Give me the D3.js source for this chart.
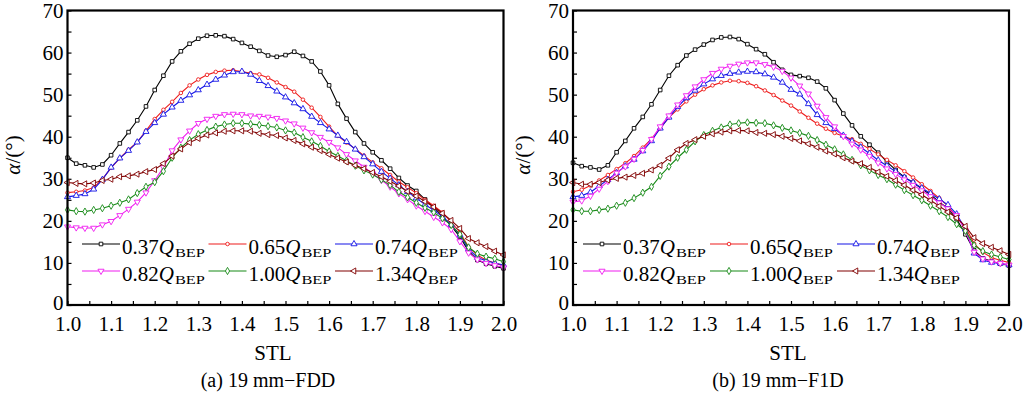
<!DOCTYPE html>
<html>
<head>
<meta charset="utf-8">
<script src="https://cdn.jsdelivr.net/npm/d3@7"></script>
<style>
  body { margin: 0; background: #fff; }
  svg { display: block; font-family: "Liberation Serif", "Times New Roman", serif; }
</style>
</head>
<body>
<div id="chart"></div>
<script>
// STL positions of the sampled points
const stl = [1.00,1.02,1.04,1.06,1.08,1.10,1.12,1.14,1.16,1.18,1.20,1.22,1.24,1.26,1.28,1.30,1.32,1.34,1.36,1.38,1.40,1.42,1.44,1.46,1.48,1.50,
             1.52,1.54,1.56,1.58,1.60,1.62,1.64,1.66,1.68,1.70,1.72,1.74,1.76,1.78,1.80,1.82,1.84,1.86,1.88,1.90,1.92,1.94,1.96,1.98,2.00];

const flowLabels = ["0.37", "0.65", "0.74", "0.82", "1.00", "1.34"];

// (a) 19 mm-FDD
const fddQ037 = [35.0,33.6,33.2,32.7,33.4,35.6,38.4,41.1,43.9,47.2,51.1,54.5,57.9,60.3,62.1,63.3,64.0,64.1,63.9,63.2,62.3,61.4,60.4,59.3,59.0,59.4,
                 60.2,59.2,57.9,55.5,52.2,47.8,44.3,41.1,38.4,36.3,34.4,32.4,30.2,28.4,27.1,25.1,23.2,21.1,18.8,16.2,12.8,10.7,9.8,9.2,8.7];
const fddQ065 = [26.7,26.9,27.2,27.9,29.9,32.6,34.9,36.9,38.7,41.4,44.2,46.4,48.3,50.4,52.2,53.6,54.7,55.4,55.7,55.8,55.5,55.1,54.8,54.0,52.9,51.8,
                 50.7,48.8,46.9,44.7,42.4,40.2,38.6,37.1,35.5,33.9,32.5,30.9,29.3,28.0,26.6,25.0,23.6,22.0,19.7,17.3,13.8,11.8,10.7,10.0,9.3];
const fddQ074 = [25.7,26.0,26.4,27.5,29.8,32.7,34.9,36.7,38.7,41.2,43.3,45.3,47.0,48.6,49.9,51.1,52.4,53.6,54.6,55.4,55.5,54.8,53.3,52.1,50.8,49.4,
                 48.0,46.6,44.8,43.3,41.8,40.3,38.8,37.0,35.2,33.5,31.7,30.1,28.5,26.9,25.4,23.9,22.5,21.0,19.1,16.6,13.3,11.3,10.5,10.0,9.5];
const fddQ082 = [18.6,18.4,18.3,18.3,19.1,19.9,21.3,22.8,24.5,26.7,29.6,32.7,36.7,39.3,41.4,43.2,44.2,44.9,45.3,45.4,45.3,45.0,44.9,44.7,44.4,43.8,
                 43.1,42.1,41.0,39.9,38.7,37.4,35.8,34.3,32.8,31.2,29.7,28.1,26.5,25.1,23.6,22.3,20.9,19.6,18.0,15.1,12.4,10.8,9.9,9.4,8.9];
const fddQ100 = [22.6,22.3,22.2,22.6,23.0,23.6,24.3,25.1,26.6,28.1,29.2,31.8,35.0,37.4,39.2,40.6,41.6,42.4,42.9,43.2,43.2,43.0,42.8,42.5,42.2,41.5,
                 41.0,39.9,38.9,37.8,36.5,35.4,34.3,33.1,32.0,31.0,29.8,28.5,26.9,25.6,24.3,23.1,22.0,20.6,19.0,16.8,13.7,12.2,11.5,11.0,10.3];
const fddQ134 = [29.1,28.9,28.8,29.0,29.6,29.9,30.5,30.7,31.1,31.7,32.2,33.6,35.4,37.1,38.6,39.6,40.4,40.9,41.3,41.4,41.4,41.3,40.8,40.5,40.3,39.7,
                 39.1,38.3,37.5,36.7,35.8,34.9,34.0,33.2,32.4,31.5,30.5,29.4,28.3,27.0,25.9,24.6,23.3,21.8,20.1,18.2,15.8,14.8,13.9,12.8,11.9];

// (b) 19 mm-F1D
const f1dQ037 = [33.8,33.0,32.7,32.2,33.2,36.3,39.0,42.0,44.7,47.7,51.1,54.5,57.0,59.3,60.7,61.9,63.0,63.6,63.7,63.2,62.0,60.8,59.6,57.7,55.9,54.7,
                 54.4,54.0,53.1,51.5,48.7,45.5,42.7,40.1,38.1,36.2,34.0,32.1,30.4,29.1,27.6,26.2,24.5,22.9,20.4,16.8,13.0,11.1,10.4,9.8,9.4];
const f1dQ065 = [26.9,27.4,28.4,29.6,30.9,32.3,33.7,35.4,37.4,39.5,42.0,44.6,46.5,48.4,50.0,51.3,52.2,52.9,53.3,53.2,52.8,52.0,51.0,49.9,48.6,47.4,
                 46.0,44.5,43.1,41.9,40.9,40.1,39.4,38.3,37.1,35.8,34.5,33.2,31.8,30.3,28.7,27.1,25.4,23.5,20.9,18.5,14.6,12.5,11.3,10.6,10.1];
const f1dQ074 = [25.7,26.0,26.8,28.3,29.8,31.4,33.0,34.6,36.6,39.0,42.0,44.6,47.1,49.2,51.0,52.5,53.7,54.5,55.0,55.3,55.5,55.4,54.9,54.1,52.9,51.2,
                 50.1,47.8,45.2,43.3,41.9,40.3,38.9,37.5,36.0,34.4,33.1,31.7,30.3,29.1,27.8,26.5,25.2,23.8,21.6,18.0,12.3,10.7,10.1,9.9,9.5];
const f1dQ082 = [24.5,24.8,25.9,27.6,29.4,31.4,32.9,34.7,36.8,39.4,42.4,45.0,47.6,49.8,51.9,53.6,55.1,56.1,56.8,57.3,57.6,57.6,57.2,56.6,55.6,54.0,
                 52.1,50.2,47.3,44.6,42.4,40.1,38.3,36.9,35.4,33.8,32.4,31.1,29.8,28.5,27.2,25.8,24.3,22.9,21.3,17.7,12.6,11.0,10.3,9.9,9.5];
const f1dQ100 = [22.6,22.3,22.3,22.6,22.9,23.6,24.3,25.4,26.7,28.1,30.7,32.9,35.0,36.9,38.9,40.4,41.4,42.2,42.9,43.2,43.4,43.3,43.2,42.7,42.1,41.5,
                 40.9,40.2,39.2,38.1,37.0,35.8,34.5,33.2,32.0,30.9,29.9,28.6,27.3,26.1,24.9,23.6,22.3,20.9,19.2,17.6,14.2,12.8,12.0,11.4,10.8];
const f1dQ134 = [29.1,28.7,28.7,29.1,29.7,30.1,30.4,30.8,31.3,32.1,33.2,34.9,36.9,38.4,39.3,40.1,40.7,41.1,41.4,41.5,41.4,41.0,40.8,40.5,40.1,39.6,
                 39.0,38.3,37.5,36.6,35.9,35.0,34.2,33.6,32.7,31.6,30.6,29.6,28.5,27.3,26.2,24.9,23.5,22.1,20.7,18.7,16.0,14.6,13.7,12.9,12.0];

const xTicks = [1.0,1.05,1.1,1.15,1.2,1.25,1.3,1.35,1.4,1.45,1.5,1.55,1.6,1.65,1.7,1.75,1.8,1.85,1.9,1.95,2.0];
const yTicks = [0,5,10,15,20,25,30,35,40,45,50,55,60,65,70];

const colors = ["#000000", "#ee1c1c", "#1414e6", "#f01cf0", "#178a17", "#800000"];
// marker shape + rotation per series
const markers = [
  {type: d3.symbolSquare, size: 13, rot: 0},
  {type: d3.symbolCircle, size: 10, rot: 0},
  {type: d3.symbolTriangle, size: 16, rot: 0},
  {type: d3.symbolTriangle, size: 16, rot: 180},
  {type: d3.symbolDiamond, size: 15, rot: 0},
  {type: d3.symbolTriangle, size: 16, rot: -90}
];

const width = 1024, height = 393;
const svg = d3.select("#chart").append("svg")
    .attr("width", width).attr("height", height)
    .attr("font-family", "Liberation Serif");

const panels = [
  {x0: 67.5, x1: 503.5, data: [fddQ037, fddQ065, fddQ074, fddQ082, fddQ100, fddQ134],
   yLabX: 20, stlX: 273, capX: 268, caption: "(a) 19 mm\u2212FDD", legX: 82, legDx: 126.5},
  {x0: 573, x1: 1009, data: [f1dQ037, f1dQ065, f1dQ074, f1dQ082, f1dQ100, f1dQ134],
   yLabX: 530, stlX: 788, capX: 778, caption: "(b) 19 mm\u2212F1D", legX: 583, legDx: 127}
];

const plotTop = 10.5, plotBottom = 305;

panels.forEach(p => {
  const x = d3.scaleLinear().domain([1, 2]).range([p.x0, p.x1]);
  const y = d3.scaleLinear().domain([0, 70]).range([plotBottom, plotTop]);
  const g = svg.append("g");

  // y axis
  g.append("g")
      .attr("transform", `translate(${p.x0},0)`)
      .call(d3.axisLeft(y).tickValues(yTicks).tickSize(-4).tickPadding(4)
            .tickFormat(d => d % 10 === 0 ? d : ""))
      .call(a => a.select(".domain").remove())
      .call(a => a.selectAll(".tick line").attr("stroke", "#000").attr("stroke-width", 1.2))
      .call(a => a.selectAll(".tick text").attr("font-size", 21).attr("fill", "#000")
            .attr("font-family", "Liberation Serif"))
      .call(a => a.selectAll(".tick text").filter(d => d === 0).attr("dy", "0.2em"));

  // x axis
  g.append("g")
      .attr("transform", `translate(0,${plotBottom})`)
      .call(d3.axisBottom(x).tickValues(xTicks).tickSize(-4).tickPadding(11)
            .tickFormat(d => Math.round(d * 100) % 10 === 0 ? d3.format(".1f")(d) : ""))
      .call(a => a.select(".domain").remove())
      .call(a => a.selectAll(".tick line").attr("stroke", "#000").attr("stroke-width", 1.2))
      .call(a => a.selectAll(".tick text").attr("font-size", 21).attr("fill", "#000")
            .attr("font-family", "Liberation Serif"));

  // series
  const line = d3.line().x((d, i) => x(stl[i])).y(d => y(d));
  p.data.forEach((vals, k) => {
    const m = markers[k];
    const sym = d3.symbol().type(m.type).size(m.size);
    g.append("path").datum(vals)
        .attr("fill", "none").attr("stroke", colors[k]).attr("stroke-width", 1.1)
        .attr("d", line);
    g.append("g").selectAll("path").data(vals).join("path")
        .attr("transform", (d, i) => `translate(${x(stl[i])},${y(d)}) rotate(${m.rot})`)
        .attr("d", sym)
        .attr("fill", "#fff").attr("stroke", colors[k]).attr("stroke-width", 0.9);
  });

  // frame
  g.append("rect")
      .attr("x", p.x0).attr("y", plotTop)
      .attr("width", p.x1 - p.x0).attr("height", plotBottom - plotTop)
      .attr("fill", "none").attr("stroke", "#000").attr("stroke-width", 2.2);

  // legend
  flowLabels.forEach((lab, k) => {
    const col = k % 3, row = Math.floor(k / 3);
    const lx = p.legX + col * p.legDx, ly = 244 + row * 27;
    const m = markers[k];
    g.append("line")
        .attr("x1", lx).attr("x2", lx + 38).attr("y1", ly).attr("y2", ly)
        .attr("stroke", colors[k]).attr("stroke-width", 1.2);
    g.append("path")
        .attr("transform", `translate(${lx + 19},${ly}) rotate(${m.rot})`)
        .attr("d", d3.symbol().type(m.type).size(m.size))
        .attr("fill", "#fff").attr("stroke", colors[k]).attr("stroke-width", 0.9);
    const t = g.append("text")
        .attr("x", lx + 40).attr("y", ly + 10)
        .attr("font-size", 21).attr("fill", "#000");
    t.append("tspan").text(lab);
    t.append("tspan").attr("font-style", "italic").text("Q");
    const w = t.node().getComputedTextLength();
    g.append("text")
        .attr("x", lx + 40 + w + 1).attr("y", ly + 13)
        .attr("font-size", 12).attr("fill", "#000")
        .attr("textLength", 30).attr("lengthAdjust", "spacingAndGlyphs")
        .text("BEP");
  });

  // y label
  const yl = g.append("text")
      .attr("transform", `translate(${p.yLabX},155) rotate(-90)`)
      .attr("text-anchor", "middle").attr("font-size", 21).attr("fill", "#000");
  yl.append("tspan").attr("font-style", "italic").text("\u03b1");
  yl.append("tspan").text("/(\u00b0)");

  // x label and caption
  g.append("text")
      .attr("x", p.stlX).attr("y", 360)
      .attr("text-anchor", "middle").attr("font-size", 21).attr("fill", "#000")
      .text("STL");
  g.append("text")
      .attr("x", p.capX).attr("y", 387)
      .attr("text-anchor", "middle").attr("font-size", 20).attr("fill", "#000")
      .text(p.caption);
});
</script>
</body>
</html>
